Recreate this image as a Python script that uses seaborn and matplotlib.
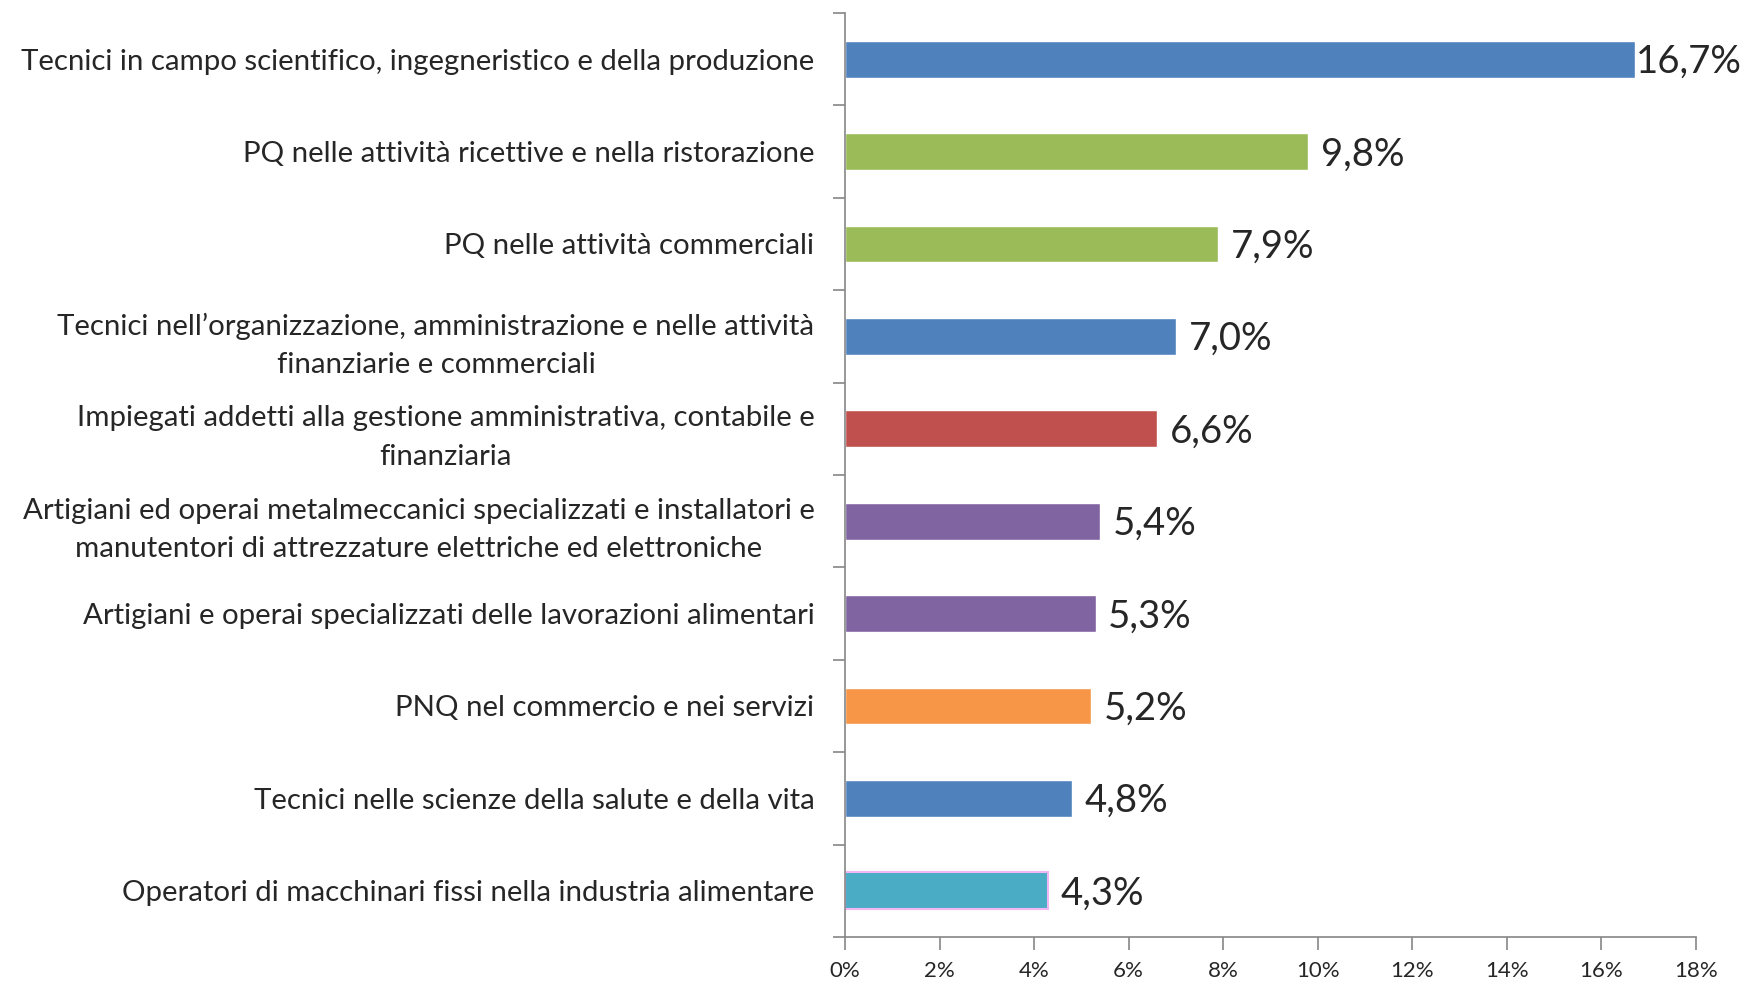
import seaborn as sns
import pandas as pd
import numpy as np
from matplotlib import pyplot as plt

categories = [
  "Tecnici in campo scientifico, ingegneristico e della produzione",
  "PQ nelle attività ricettive e nella ristorazione",
  "PQ nelle attività commerciali",
  "Tecnici nell\u2019organizzazione, amministrazione e nelle attività\nfinanziarie e commerciali",
  "Impiegati addetti alla gestione amministrativa, contabile e\nfinanziaria",
  "Artigiani ed operai metalmeccanici specializzati e installatori e\nmanutentori di attrezzature elettriche ed elettroniche",
  "Artigiani e operai specializzati delle lavorazioni alimentari",
  "PNQ nel commercio e nei servizi",
  "Tecnici nelle scienze della salute e della vita",
  "Operatori di macchinari fissi nella industria alimentare",
]
values = [16.7, 9.8, 7.9, 7.0, 6.6, 5.4, 5.3, 5.2, 4.8, 4.3]
colors = ["#4F81BD", "#9BBB59", "#9BBB59", "#4F81BD", "#C0504D",
          "#8064A2", "#8064A2", "#F79646", "#4F81BD", "#4BACC6"]
xticks = [0, 2, 4, 6, 8, 10, 12, 14, 16, 18]

df = pd.DataFrame({"Categoria": categories, "Valore": values})

sns.set_theme(style='white')
plt.rcParams['font.family'] = ['Lato', 'DejaVu Sans']

fig = plt.figure(figsize=(17.44, 9.83), dpi=100)
ax = fig.add_axes([0.4845, 0.0468, 0.4880, 0.9400])

sns.barplot(data=df, y="Categoria", x="Valore", hue="Categoria",
            palette=colors, legend=False, orient='h', width=0.4,
            saturation=1, ax=ax)

# bordo rosa sull'ultima barra
ax.patches[-1].set_edgecolor("#F2B6F2")
ax.patches[-1].set_linewidth(1.5)

for i, v in enumerate(values):
  off = 1 if v > 16 else 9
  ax.annotate(f"{v:.1f}%".replace('.', ','), xy=(v, i), xytext=(off, -2),
              textcoords='offset points', ha='left', va='center', fontsize=27.5)

ax.set_xlim(0, 18)
ax.set_ylim(len(categories) - 0.5, -0.5)
ax.set_xticks(xticks)
ax.set_xticklabels([f"{t}%" for t in xticks], fontsize=16)
ax.set_yticks(range(len(categories)))
ax.set_yticklabels(categories, fontsize=21.2, multialignment='center', linespacing=1.6)
ax.set_yticks(np.arange(-0.5, len(categories), 1), minor=True)
ax.tick_params(axis='y', which='major', length=0, pad=22)
ax.tick_params(axis='y', which='minor', length=9, width=1.2, color='#868686', left=True)
ax.tick_params(axis='x', which='major', length=9, width=1.2, color='#868686', bottom=True, pad=8)
ax.set_xlabel('')
ax.set_ylabel('')

for s in ['top', 'right']:
  ax.spines[s].set_visible(False)
for s in ['left', 'bottom']:
  ax.spines[s].set_color('#868686')
  ax.spines[s].set_linewidth(1.2)

plt.savefig('out.png', dpi=100)
plt.close(fig)
